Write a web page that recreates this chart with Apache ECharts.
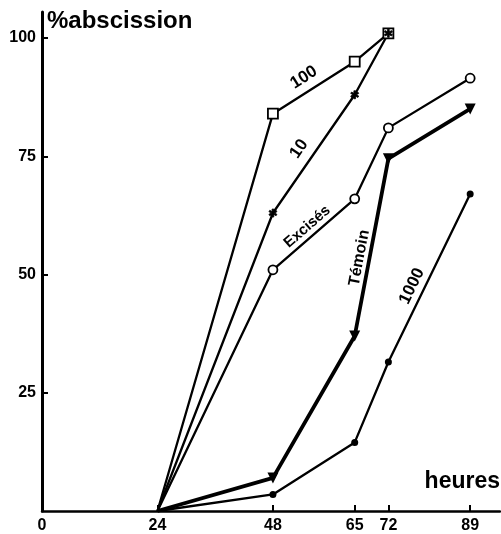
<!DOCTYPE html>
<html><head><meta charset="utf-8">
<script src="https://cdn.jsdelivr.net/npm/echarts@6/dist/echarts.min.js"></script>
<style>html,body{margin:0;padding:0;background:#fff}#c{width:501px;height:534px}</style>
</head><body><div id="c"></div>
<script>
const xTickValues = [0, 24, 48, 65, 72, 89];
const yTickValues = [25, 50, 75, 100];
const hoursShort = [24, 48, 65, 72];
const hoursLong = [24, 48, 65, 72, 89];
const s100 = [0, 84, 95, 101];
const s10 = [0, 63, 88, 101];
const sExcises = [0, 51, 66, 81, 91.5];
const sTemoin = [0, 7, 37, 74.5, 85];
const s1000 = [0, 3.5, 14.5, 31.5, 67];
const lineLabels = ['100', '10', 'Excisés', 'Témoin', '1000'];

const FONT = '"Liberation Sans", Arial, sans-serif';
const chart = echarts.init(document.getElementById('c'));
const star = 'path://M-1,-5L1,-5L1,5L-1,5Z M-4.83,-1.63L-3.83,-3.37L4.83,1.63L3.83,3.37Z M4.83,-1.63L3.83,-3.37L-4.83,1.63L-3.83,3.37Z';

function mk(xs, ys) {
  return xs.map((x, i) => i === 0 ? { value: [x, ys[i]], symbol: 'none' } : [x, ys[i]]);
}
function ser(name, xs, ys, sym, size, fill, lw, rot) {
  return {
    name, type: 'line', data: mk(xs, ys), symbol: sym, symbolSize: size,
    symbolRotate: rot || 0, showAllSymbol: true, animation: false,
    lineStyle: { color: '#000', width: lw },
    itemStyle: { color: fill, borderColor: '#000', borderWidth: fill === '#fff' ? 1.8 : (sym.startsWith('path') ? 0.8 : 0), opacity: 1 },
    emphasis: { disabled: true }, z: 3
  };
}
chart.setOption({
  animation: false,
  grid: { left: 42, right: 1, top: 12, bottom: 23 },
  xAxis: {
    type: 'value', min: 0, max: 95.2, splitLine: { show: false },
    axisLine: { lineStyle: { color: '#000', width: 2.5 } },
    axisTick: { inside: true, length: 6, lineStyle: { color: '#000', width: 2 }, customValues: xTickValues.slice(1) },
    axisLabel: { customValues: xTickValues, color: '#000', fontFamily: FONT, fontWeight: 'bold', fontSize: 16, margin: 7 }
  },
  yAxis: {
    type: 'value', min: 0, max: 105.5, splitLine: { show: false },
    axisLine: { lineStyle: { color: '#000', width: 3 } },
    axisTick: { inside: true, length: 6, lineStyle: { color: '#000', width: 2 }, customValues: yTickValues },
    axisLabel: { customValues: yTickValues, color: '#000', fontFamily: FONT, fontWeight: 'bold', fontSize: 16, margin: 6 }
  },
  series: [
    ser('100', hoursShort, s100, 'rect', 10, '#fff', 2.3),
    ser('Excisés', hoursLong, sExcises, 'circle', 9, '#fff', 2.3),
    ser('Témoin', hoursLong, sTemoin, 'triangle', 11, '#000', 3.8, 180),
    ser('1000', hoursLong, s1000, 'circle', 7, '#000', 2.3),
    ser('10', hoursShort, s10, star, 8, '#000', 2.3)
  ]
});

const segDefs = [
  { xs: hoursShort, ys: s100, seg: 1, t: 0.47, off: 14, size: 17 },
  { xs: hoursShort, ys: s10, seg: 1, t: 0.47, off: 15, size: 17 },
  { xs: hoursLong, ys: sExcises, seg: 1, t: 0.5, off: 10, size: 15 },
  { xs: hoursLong, ys: sTemoin, seg: 2, t: 0.43, off: 10, size: 16 },
  { xs: hoursLong, ys: s1000, seg: 3, t: 0.42, off: 12, size: 17 }
];
const graphics = segDefs.map((d, i) => {
  const a = chart.convertToPixel({ gridIndex: 0 }, [d.xs[d.seg], d.ys[d.seg]]);
  const b = chart.convertToPixel({ gridIndex: 0 }, [d.xs[d.seg + 1], d.ys[d.seg + 1]]);
  const dx = b[0] - a[0], dy = b[1] - a[1], L = Math.hypot(dx, dy);
  const ux = dx / L, uy = dy / L, nx = uy, ny = -ux;
  return {
    type: 'text', x: a[0] + dx * d.t + nx * d.off, y: a[1] + dy * d.t + ny * d.off,
    rotation: Math.atan2(-dy, dx), z: 10,
    style: { text: lineLabels[i], fill: '#000', font: 'bold ' + d.size + 'px ' + FONT, align: 'center', verticalAlign: 'middle' }
  };
});
graphics.push({ type: 'text', left: 47, top: 9, z: 10, style: { text: '%abscission', fill: '#000', font: 'bold 24px ' + FONT } });
graphics.push({ type: 'text', right: 1, top: 470, z: 10, style: { text: 'heures', fill: '#000', font: 'bold 23px ' + FONT } });
chart.setOption({ graphic: graphics });
</script></body></html>
